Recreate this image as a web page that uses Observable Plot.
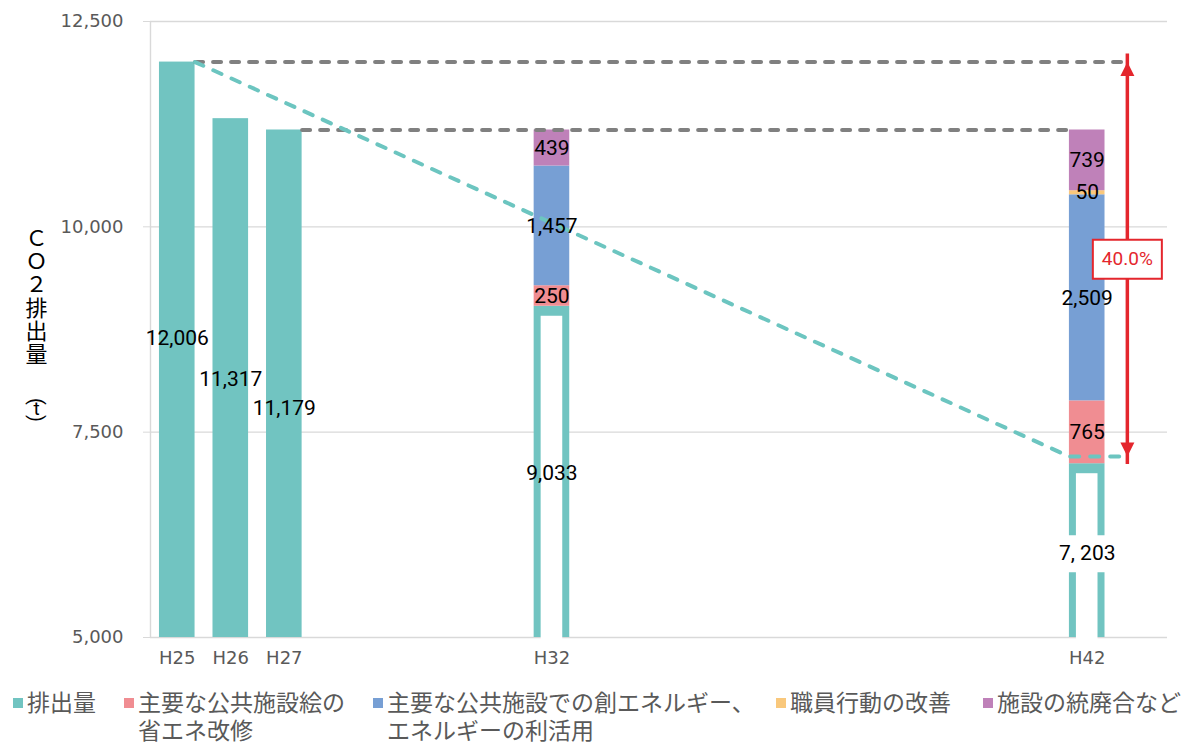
<!DOCTYPE html>
<html><head><meta charset="utf-8">
<script src="https://cdn.jsdelivr.net/npm/d3@7"></script>
<script src="https://cdn.jsdelivr.net/npm/@observablehq/plot@0.6"></script>
<style>
body{margin:0;background:#fff;}
#wrap{position:relative;width:1189px;height:747px;overflow:hidden;font-family:"Noto Sans CJK JP",sans-serif;}
#chart svg{display:block;}
.leg{position:absolute;color:#595959;font-size:23px;line-height:28px;white-space:pre;top:687px;}
.sw{position:absolute;width:10px;height:10px;top:698px;}
</style></head><body><div id="wrap"><div id="chart"></div></div>
<script>
// ---- data ----
const years = ["H25","H26","H27","H28","H29","H30","H31","H32","H33","H34","H35","H36","H37","H38","H39","H40","H41","H42","H43"];
const barYears = ["H25","H26","H27","H32","H42"];
const emission = [12006, 11317, 11179, 9033, 7116];
const emissionLabels = ["12,006","11,317","11,179","9,033","7, 203"];
const emissionLabelAt = [8640, 8150, 7785, 7000, 6020];
const projectedYears = ["H32","H42"];
const seriesNames = ["排出量","主要な公共施設絵の省エネ改修","主要な公共施設での創エネルギー、エネルギーの利活用","職員行動の改善","施設の統廃合など"];
const legendTexts = ["排出量","主要な公共施設絵の\n省エネ改修","主要な公共施設での創エネルギー、\nエネルギーの利活用","職員行動の改善","施設の統廃合など"];
const savingH32 = [250, 1457, 0, 439];
const savingH42 = [765, 2509, 50, 739];
const baseline = 12006;
const target = 7203;
const yTicks = [5000, 7500, 10000, 12500];
const colors = ["#71c4c1","#f08d92","#779fd4","#f9c87c","#bf81b9"];
const red = "#e4262d";

// ---- derived ----
const n = years.length;
const hw = 0.3325;
const xDomain = [-0.5, n - 0.5];
const yDomain = [yTicks[0], yTicks[yTicks.length - 1]];
const base = yDomain[0];
const idx = barYears.map(y => years.indexOf(y));
const emitRows = barYears.map((y, k) => ({i: idx[k], v: emission[k], label: emissionLabels[k], at: emissionLabelAt[k], year: y}));
const hollowRows = emitRows.filter(d => projectedYears.includes(d.year));
const segRows = [];
[savingH32, savingH42].forEach((vals, p) => {
  const row = emitRows.find(d => d.year === projectedYears[p]);
  let acc = row.v;
  vals.forEach((v, s) => {
    segRows.push({i: row.i, y1: acc, y2: acc + v, value: v, series: seriesNames[s + 1]});
    acc += v;
  });
});
const last = emitRows[emitRows.length - 1];
const arrowX = last.i + 0.75;
const mid = (baseline + target) / 2;
const pct = d3.format(".1%")(1 - target / baseline);

const rectSym = (w, h) => ({draw(ctx) { ctx.rect(-w / 2, -h / 2, w, h); }});
const tipUp = {draw(ctx) { ctx.moveTo(0, 0); ctx.lineTo(-7, 14); ctx.lineTo(7, 14); ctx.closePath(); }};
const tipDown = {draw(ctx) { ctx.moveTo(0, 0); ctx.lineTo(-7, -14); ctx.lineTo(7, -14); ctx.closePath(); }};

const grayLines = [
  [{x: emitRows[0].i + hw, y: baseline}, {x: arrowX, y: baseline}],
  [{x: emitRows[2].i + hw, y: emission[2]}, {x: last.i - hw, y: emission[2]}]
];
const tealLine = [{x: emitRows[0].i + hw, y: emission[0]}, {x: last.i - hw, y: target}, {x: arrowX, y: target}];

const titleFont = "Noto Sans CJK JP";
const plot = Plot.plot({
  width: 1189, height: 680,
  marginLeft: 150, marginRight: 22, marginTop: 21, marginBottom: 43,
  style: {fontFamily: "Roboto, 'Noto Sans CJK JP', sans-serif", background: "white"},
  x: {type: "linear", domain: xDomain, label: null},
  y: {domain: yDomain, label: null},
  color: {domain: seriesNames, range: colors},
  marks: [
    Plot.ruleY(yTicks, {stroke: "#d9d9d9", strokeWidth: 1.4}),
    Plot.ruleX([xDomain[0]], {y1: yDomain[0], y2: yDomain[1], stroke: "#d9d9d9", strokeWidth: 1.4}),
    Plot.axisY({ticks: yTicks, tickFormat: d3.format(","), tickSize: 7, tickPadding: 20, stroke: "#d9d9d9", fill: "#595959", fontSize: 18, fontFamily: "DejaVu Sans", label: null}),
    Plot.axisX({ticks: idx, tickFormat: d => years[d], tickSize: 0, tickPadding: 14, fill: "#595959", fontSize: 18, fontFamily: "DejaVu Sans", label: null}),
    Plot.rectY(emitRows, {x1: d => d.i - hw, x2: d => d.i + hw, y1: base, y2: "v", fill: colors[0]}),
    Plot.rectY(segRows.filter(d => d.value > 0), {x1: d => d.i - hw, x2: d => d.i + hw, y1: "y1", y2: "y2", fill: "series"}),
    Plot.rectY(hollowRows, {x1: d => d.i - hw, x2: d => d.i + hw, y1: base, y2: "v", fill: "white", insetLeft: 7, insetRight: 7, insetTop: 10, insetBottom: -4}),
    Plot.dot([last], {x: "i", y: "at", symbol: rectSym(42, 37), fill: "white", stroke: "none"}),
    ...grayLines.map(L => Plot.line(L, {x: "x", y: "y", stroke: "#808080", strokeWidth: 4, strokeDasharray: "8,10", strokeLinecap: "round"})),
    Plot.line(tealLine, {x: "x", y: "y", stroke: "#6cc5c0", strokeWidth: 4, strokeDasharray: "9,11", strokeLinecap: "round", strokeLinejoin: "round"}),
    Plot.ruleX([{x: arrowX}], {x: "x", y1: target, y2: baseline, stroke: red, strokeWidth: 3.5, insetTop: 8, insetBottom: 8}),
    Plot.dot([{x: arrowX, y: baseline}], {x: "x", y: "y", symbol: tipUp, fill: red, stroke: "none"}),
    Plot.dot([{x: arrowX, y: target}], {x: "x", y: "y", symbol: tipDown, fill: red, stroke: "none"}),
    Plot.dot([{x: arrowX, y: mid}], {x: "x", y: "y", symbol: rectSym(69, 39), fill: "white", stroke: red, strokeWidth: 2}),
    Plot.text([{x: arrowX, y: mid, t: pct}], {x: "x", y: "y", text: "t", fill: red, fontSize: 19}),
    Plot.text(emitRows, {x: "i", y: "at", text: "label", fill: "black", fontSize: 21}),
    Plot.text(segRows.filter(d => d.value > 0), {x: "i", y: d => (d.y1 + d.y2) / 2, text: d => d3.format(",")(d.value), fill: "black", fontSize: 21}),
    Plot.text(["Ｃ\nＯ\n２\n排\n出\n量"], {frameAnchor: "left", textAnchor: "middle", dx: -114, dy: -33, fontSize: 22, lineHeight: 1.06, fill: "black", fontFamily: titleFont}),
    Plot.text(["("], {frameAnchor: "left", textAnchor: "middle", dx: -114, dy: 72, rotate: 90, fontSize: 20, fill: "black", fontFamily: "Roboto"}),
    Plot.text(["t"], {frameAnchor: "left", textAnchor: "middle", dx: -114, dy: 79, fontSize: 19, fill: "black", fontFamily: "Roboto"}),
    Plot.text([")"], {frameAnchor: "left", textAnchor: "middle", dx: -114, dy: 89, rotate: 90, fontSize: 20, fill: "black", fontFamily: "Roboto"})
  ]
});
document.getElementById("chart").appendChild(plot);

// legend
const wrap = document.getElementById("wrap");
const legX = [13, 124, 373, 776, 983];
legendTexts.forEach((t, k) => {
  const sw = document.createElement("div");
  sw.className = "sw"; sw.style.left = legX[k] + "px"; sw.style.background = colors[k];
  wrap.appendChild(sw);
  const tx = document.createElement("div");
  tx.className = "leg"; tx.style.left = (legX[k] + 14) + "px"; tx.textContent = t;
  wrap.appendChild(tx);
});
</script></body></html>
